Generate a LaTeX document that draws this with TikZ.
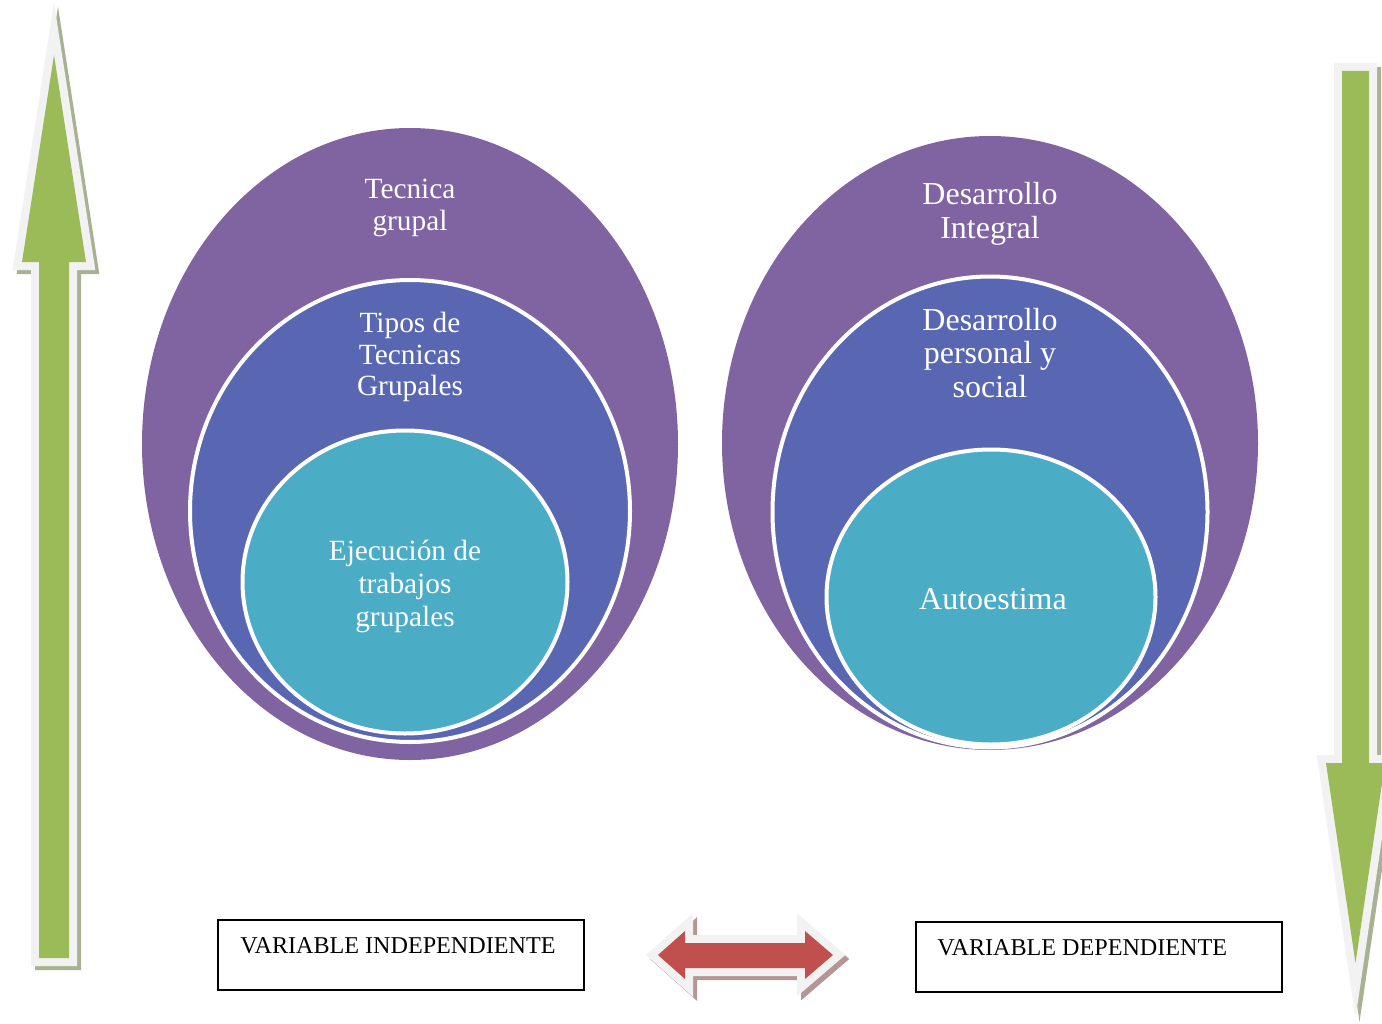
\documentclass[tikz,border=0pt]{standalone}
\usepackage{fontspec}
\setmainfont{Liberation Serif}
\usetikzlibrary{shapes.geometric}
\definecolor{purp}{RGB}{128,100,162}
\definecolor{blu}{RGB}{89,103,178}
\definecolor{teal2}{RGB}{75,172,198}
\definecolor{grn}{RGB}{155,187,89}
\definecolor{redA}{RGB}{192,80,77}
\definecolor{frameC}{RGB}{242,242,242}
\definecolor{shadG}{RGB}{168,178,146}
\definecolor{shadR}{RGB}{182,150,148}
\begin{document}
\begin{tikzpicture}[x=0.75pt,y=-0.75pt,
  ell/.style={ellipse, inner sep=0pt, outer sep=0pt, draw=white, line width=3pt},
  lblL/.style={text=white, align=center, font=\fontsize{22}{23.5}\selectfont},
  lblR/.style={text=white, align=center, font=\fontsize{24}{25}\selectfont},
  varbox/.style={draw=black, line width=1.2pt, minimum width=274.5pt, minimum height=52.5pt, inner sep=0pt},
  vartext/.style={anchor=base west, font=\fontsize{18.1}{19}\selectfont, inner sep=0pt},
  arrshadow/.style={line width=12pt, line join=miter, miter limit=20},
  arrframe/.style={draw=frameC, line width=12pt, line join=miter, miter limit=20}]
\useasboundingbox (0,0) rectangle (1382,1024);
\fill[white] (0,0) rectangle (1382,1024);

% left ellipses
\node[ell, draw=none, fill=purp, minimum width=402pt, minimum height=474pt] (LO) at (410,444) {};
\node[ell, fill=blu, minimum width=330pt, minimum height=346.5pt] (LM) at (410,511) {};
\node[ell, fill=teal2, minimum width=243.75pt, minimum height=227.25pt] (LI) at (405,582) {};
\node[lblL] (tLO) at (410,208) {Tecnica\\grupal};
\node[lblL] (tLM) at (410,357) {Tipos de\\Tecnicas\\Grupales};
\node[lblL, font=\fontsize{22}{24.75}\selectfont] (tLI) at (405,586) {Ejecución de\\trabajos\\grupales};

% right ellipses
\node[ell, draw=none, fill=purp, minimum width=402pt, minimum height=460.5pt] (RO) at (990,443) {};
\node[ell, fill=blu, minimum width=326.25pt, minimum height=353.25pt] (RM) at (990,512) {};
\node[ell, fill=teal2, minimum width=246.75pt, minimum height=221.25pt] (RI) at (991,597) {};
\node[lblR] (tRO) at (990,214) {Desarrollo\\Integral};
\node[lblR] (tRM) at (990,353) {Desarrollo\\personal y\\social};
\node[lblR] (tRI) at (993,599) {Autoestima};

% left up arrow
\draw[arrshadow, draw=shadG, fill=shadG, shift={(4,4)}] (39,958) -- (39,262) -- (22,262) -- (54,55) -- (86,262) -- (69,262) -- (69,958) -- cycle;
\draw[arrframe, fill=frameC] (39,958) -- (39,262) -- (22,262) -- (54,55) -- (86,262) -- (69,262) -- (69,958) -- cycle;
\fill[grn] (39,958) -- (39,262) -- (22,262) -- (54,55) -- (86,262) -- (69,262) -- (69,958) -- cycle;

% right down arrow
\draw[arrshadow, draw=shadG, fill=shadG, shift={(4,4)}] (1342,71) -- (1369,71) -- (1369,763) -- (1385,763) -- (1355.5,963) -- (1326,763) -- (1342,763) -- cycle;
\draw[arrframe, fill=frameC] (1342,71) -- (1369,71) -- (1369,763) -- (1385,763) -- (1355.5,963) -- (1326,763) -- (1342,763) -- cycle;
\fill[grn] (1342,71) -- (1369,71) -- (1369,763) -- (1385,763) -- (1355.5,963) -- (1326,763) -- (1342,763) -- cycle;

% red double arrow
\draw[arrshadow, draw=shadR, fill=shadR, shift={(4,4)}] (658,955) -- (685,931) -- (685,943) -- (805,943) -- (805,931) -- (833,955) -- (805,979) -- (805,968) -- (685,968) -- (685,979) -- cycle;
\draw[arrframe, fill=frameC] (658,955) -- (685,931) -- (685,943) -- (805,943) -- (805,931) -- (833,955) -- (805,979) -- (805,968) -- (685,968) -- (685,979) -- cycle;
\fill[redA] (658,955) -- (685,931) -- (685,943) -- (805,943) -- (805,931) -- (833,955) -- (805,979) -- (805,968) -- (685,968) -- (685,979) -- cycle;

% variable boxes
\node[varbox] (boxL) at (401,955) {};
\node[vartext] (txtL) at (240,953) {VARIABLE INDEPENDIENTE};
\node[varbox] (boxR) at (1099,957) {};
\node[vartext] (txtR) at (937,955) {VARIABLE DEPENDIENTE};
\end{tikzpicture}
\end{document}
